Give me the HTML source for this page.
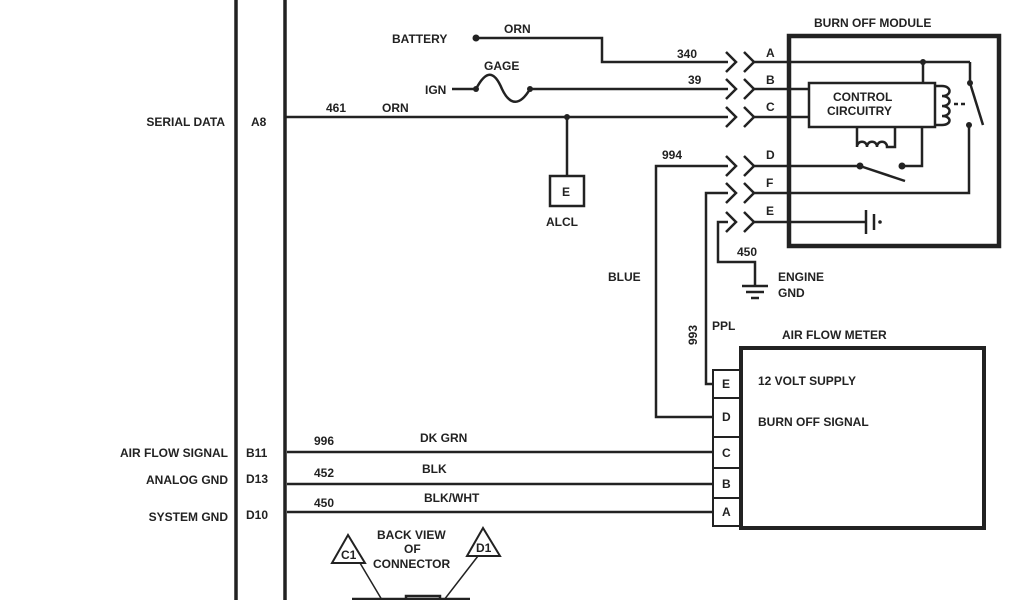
<!DOCTYPE html>
<html><head><meta charset="utf-8"><style>
html,body{margin:0;padding:0;background:#fff;}
svg{display:block;}
text{font-family:"Liberation Sans",sans-serif;font-size:12px;fill:#222;font-weight:bold;}
</style></head><body>
<svg width="1024" height="600" viewBox="0 0 1024 600" xmlns="http://www.w3.org/2000/svg">
<g stroke="#222" fill="none" stroke-width="2.5">
<line x1="236" y1="0" x2="236" y2="600" stroke-width="3.5"/>
<line x1="285" y1="0" x2="285" y2="600" stroke-width="3.5"/>
<polyline points="476,38 602,38 602,62 728,62"/>
<line x1="452" y1="89" x2="476" y2="89"/>
<path d="M476,89 C486,70 494,70 502,89 C510,106 520,106 530,89"/>
<line x1="530" y1="89" x2="728" y2="89"/>
<line x1="285" y1="117" x2="728" y2="117"/>
<polyline points="567,117 567,176"/>
<rect x="550" y="176" width="34" height="30"/>
<polyline points="728,166 656,166 656,417 713,417"/>
<polyline points="728,193 706,193 706,384 713,384"/>
<polyline points="728,222 718,222 718,262 755,262 755,285"/>
<line x1="742" y1="286" x2="768" y2="286"/>
<line x1="746" y1="292" x2="764" y2="292"/>
<line x1="751" y1="298" x2="759" y2="298"/>
<g stroke-width="2.5">
<polyline points="726,52 736,62 726,72"/><polyline points="744,52 754,62 744,72"/>
<polyline points="726,79 736,89 726,99"/><polyline points="744,79 754,89 744,99"/>
<polyline points="726,107 736,117 726,127"/><polyline points="744,107 754,117 744,127"/>
<polyline points="726,156 736,166 726,176"/><polyline points="744,156 754,166 744,176"/>
<polyline points="726,183 736,193 726,203"/><polyline points="744,183 754,193 744,203"/>
<polyline points="726,212 736,222 726,232"/><polyline points="744,212 754,222 744,232"/>
</g>
<line x1="754" y1="62" x2="970" y2="62"/>
<line x1="970" y1="62" x2="970" y2="82"/>
<line x1="754" y1="89" x2="809" y2="89"/>
<line x1="754" y1="117" x2="809" y2="117"/>
<line x1="754" y1="166" x2="860" y2="166"/>
<line x1="860" y1="166" x2="905" y2="181"/>
<polyline points="902,166 922,166 922,127"/>
<polyline points="754,193 969,193 969,126"/>
<line x1="970" y1="83" x2="983" y2="125"/>
<line x1="754" y1="222" x2="866" y2="222"/>
<line x1="866" y1="210" x2="866" y2="234"/>
<line x1="874" y1="214" x2="874" y2="230"/>
<line x1="923" y1="62" x2="923" y2="83"/>
<rect x="809" y="83" width="126" height="44"/>
<path d="M935,86 H942 C952,86 952,96 942,96 C952,96 952,106 942,106 C952,106 952,116 942,116 C952,116 952,125 942,125 H935"/>
<line x1="954" y1="104" x2="966" y2="104" stroke-dasharray="4,3"/>
<path d="M857,127 V147 C857,140 867,140 867,147 C867,140 877,140 877,147 C877,140 887,140 887,147 H895 V127"/>
<rect x="789" y="36" width="210" height="210" stroke-width="4.5"/>
<rect x="741" y="348" width="243" height="180" stroke-width="4"/>
<rect x="713" y="370" width="28" height="156" stroke-width="2"/>
<line x1="713" y1="398" x2="741" y2="398" stroke-width="2"/>
<line x1="713" y1="437" x2="741" y2="437" stroke-width="2"/>
<line x1="713" y1="468" x2="741" y2="468" stroke-width="2"/>
<line x1="713" y1="498" x2="741" y2="498" stroke-width="2"/>
<line x1="287" y1="452" x2="713" y2="452"/>
<line x1="287" y1="484" x2="713" y2="484"/>
<line x1="287" y1="512" x2="713" y2="512"/>
<polygon points="348,535 332,563 365,563" stroke-width="2"/>
<polygon points="483,528 467,556 500,556" stroke-width="2"/>
<line x1="360" y1="563" x2="382" y2="600" stroke-width="1.5"/>
<line x1="478" y1="556" x2="444" y2="600" stroke-width="1.5"/>
<line x1="352" y1="599" x2="470" y2="599"/>
<rect x="406" y="596" width="34" height="8"/>
</g>
<g fill="#222">
<circle cx="476" cy="38" r="3.5"/><circle cx="476" cy="89" r="3"/><circle cx="530" cy="89" r="3"/>
<circle cx="567" cy="117" r="3"/><circle cx="923" cy="62" r="3"/><circle cx="970" cy="83" r="3"/>
<circle cx="969" cy="125" r="3"/><circle cx="860" cy="166" r="3.5"/><circle cx="902" cy="166" r="3.5"/>
<circle cx="880" cy="222" r="1.8"/>
</g>
<text x="392" y="43">BATTERY</text>
<text x="504" y="33">ORN</text>
<text x="484" y="70">GAGE</text>
<text x="425" y="94">IGN</text>
<text x="677" y="58">340</text>
<text x="688" y="84">39</text>
<text x="225" y="126" text-anchor="end">SERIAL DATA</text>
<text x="251" y="126">A8</text>
<text x="326" y="112">461</text>
<text x="382" y="112">ORN</text>
<text x="562" y="196" font-size="11">E</text>
<text x="546" y="226">ALCL</text>
<text x="662" y="159">994</text>
<text x="766" y="57">A</text><text x="766" y="84">B</text><text x="766" y="111">C</text>
<text x="766" y="159">D</text><text x="766" y="187">F</text><text x="766" y="215">E</text>
<text x="814" y="27">BURN OFF MODULE</text>
<text x="833" y="101">CONTROL</text>
<text x="827" y="115">CIRCUITRY</text>
<text x="737" y="256">450</text>
<text x="778" y="281">ENGINE</text>
<text x="778" y="297">GND</text>
<text x="608" y="281">BLUE</text>
<text x="712" y="330">PPL</text>
<text transform="translate(697,345) rotate(-90)">993</text>
<text x="782" y="339">AIR FLOW METER</text>
<text x="758" y="385">12 VOLT SUPPLY</text>
<text x="758" y="426">BURN OFF SIGNAL</text>
<text x="722" y="388">E</text><text x="722" y="421">D</text><text x="722" y="457">C</text>
<text x="722" y="488">B</text><text x="722" y="516">A</text>
<text x="228" y="457" text-anchor="end">AIR FLOW SIGNAL</text><text x="246" y="457">B11</text>
<text x="228" y="484" text-anchor="end">ANALOG GND</text><text x="246" y="483">D13</text>
<text x="228" y="521" text-anchor="end">SYSTEM GND</text><text x="246" y="519">D10</text>
<text x="314" y="445">996</text><text x="420" y="442">DK GRN</text>
<text x="314" y="477">452</text><text x="422" y="473">BLK</text>
<text x="314" y="507">450</text><text x="424" y="502">BLK/WHT</text>
<text x="377" y="539" font-size="11">BACK VIEW</text>
<text x="404" y="553" font-size="11">OF</text>
<text x="373" y="568" font-size="11">CONNECTOR</text>
<text x="341" y="559" font-size="10">C1</text>
<text x="476" y="552" font-size="10">D1</text>
</svg>
</body></html>
